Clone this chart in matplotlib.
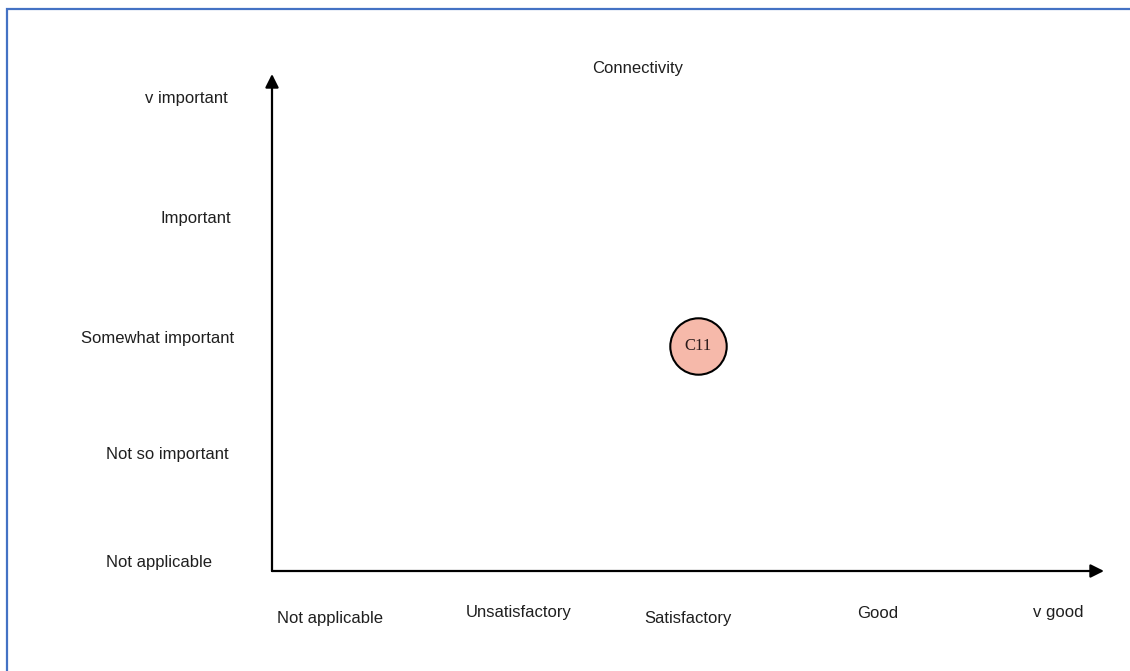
import matplotlib
matplotlib.use("Agg")
import matplotlib.pyplot as plt
from matplotlib.patches import Rectangle
from matplotlib.transforms import offset_copy

plt.rcParams['font.family'] = ['Liberation Sans', 'DejaVu Sans']

# Performance scale (x) and importance scale (y)
performance_levels = ["Not applicable", "Unsatisfactory", "Satisfactory", "Good", "v good"]
importance_levels = ["Not applicable", "Not so important", "Somewhat important", "Important", "v important"]

# Mapped stakeholders
stakeholder_ids = ["C11"]
stakeholder_performance = [2.02]
stakeholder_importance = [1.86]

chart_title = "Connectivity"

W, H, DPI = 1130, 671, 100
fig = plt.figure(figsize=(W / DPI, H / DPI), dpi=DPI, facecolor="white")

# Blue frame around the diagram (runs off the right and bottom edges)
fig.patches.append(Rectangle((7 / W, -0.5), 2.0, 0.5 + (H - 9) / H, transform=fig.transFigure,
                             fill=False, edgecolor="#4472C4", linewidth=1.6, zorder=0))

# Plot area in pixels: origin (272, 571), top (272, 74), right end (1104, 571)
x0, x1, y0, y1 = 272, 1104, 571, 74
ax = fig.add_axes([x0 / W, 1 - y0 / H, (x1 - x0) / W, (y0 - y1) / H])
ax.set_xlim(-0.3187, 4.2527)
ax.set_ylim(-0.0774, 4.198)
ax.axis("off")

# Arrowed axes
arrow = dict(arrowstyle="-|>", lw=1.6, color="black", mutation_scale=20,
             shrinkA=0, shrinkB=0)
ax.annotate("", xy=(1, 0), xytext=(0, 0), xycoords="axes fraction",
            textcoords="axes fraction", arrowprops=arrow, annotation_clip=False)
ax.annotate("", xy=(0, 1), xytext=(0, 0), xycoords="axes fraction",
            textcoords="axes fraction", arrowprops=arrow, annotation_clip=False)

text_color = "#1f1f1f"

# Importance labels to the left of the vertical axis (pixel nudges: right edge, downward)
y_label_right = [-60, -43, -38, -41, -44]
y_label_down = [0, 9, 9, 5, 1]
for j, (lab, dx, dy) in enumerate(zip(importance_levels, y_label_right, y_label_down)):
    tr = offset_copy(ax.get_yaxis_transform(), fig=fig, x=dx * 72 / DPI,
                     y=-dy * 72 / DPI, units="points")
    ax.text(0, j, lab, transform=tr, ha="right", va="center", fontsize=12,
            color=text_color, clip_on=False)

# Performance labels beneath the horizontal axis (pixel nudges: sideways, downward)
x_label_shift = [0, 7, -6, 2, 0]
x_label_drop = [47, 42, 47, 42, 42]
for i, (lab, dx, dy) in enumerate(zip(performance_levels, x_label_shift, x_label_drop)):
    tr = offset_copy(ax.get_xaxis_transform(), fig=fig, x=dx * 72 / DPI,
                     y=-dy * 72 / DPI, units="points")
    ax.text(i, 0, lab, transform=tr, ha="center", va="center", fontsize=12,
            color=text_color, clip_on=False)

# Title
fig.text(638 / W, 1 - 68 / H, chart_title, ha="center", va="center", fontsize=12,
         color=text_color)

# Stakeholder bubbles
ax.scatter(stakeholder_performance, stakeholder_importance, s=1650, color="#F6B9AA",
           edgecolor="black", linewidth=1.5, zorder=3, clip_on=False)
for sid, px, py in zip(stakeholder_ids, stakeholder_performance, stakeholder_importance):
    ax.text(px, py, sid, ha="center", va="center", fontsize=12, color="#2a1a1a",
            family=["Liberation Serif", "DejaVu Serif"], zorder=4)

fig.savefig("out.png", dpi=DPI, facecolor="white")
